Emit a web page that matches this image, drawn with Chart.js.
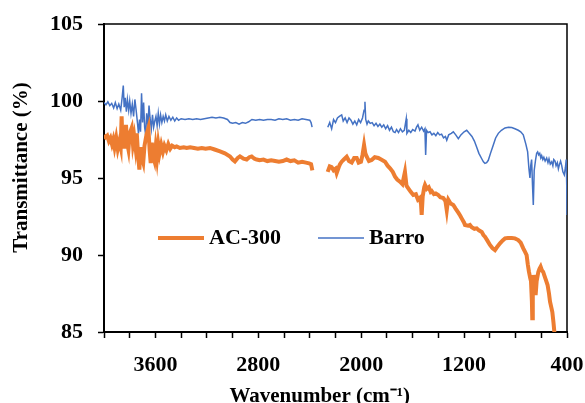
<!DOCTYPE html>
<html>
<head>
<meta charset="utf-8">
<script src="https://cdn.jsdelivr.net/npm/chart.js@4/dist/chart.umd.min.js"></script>
<style>
    html, body { margin: 0; padding: 0; background: #fff; }
    #wrap { width: 585px; height: 403px; position: relative; }
</style>
</head>
<body>
<div id="wrap"><canvas id="ftirChart"></canvas></div>
<script>
// Tick positions (cm-1) and which of them carry a label
const xTicks = [4000, 3800, 3600, 3400, 3200, 3000, 2800, 2600, 2400, 2200, 2000, 1800, 1600, 1400, 1200, 1000, 800, 600, 400];
const xTickLabels = [3600, 2800, 2000, 1200, 400];
const yTickLabels = [85, 90, 95, 100, 105];

// AC-300 spectrum (null = removed CO2 region)
const ac300Wn = [4000, 3988, 3975, 3962, 3950, 3938, 3928, 3918, 3905, 3893, 3880, 3870, 3863, 3856, 3848, 3840, 3829, 3820, 3810, 3800,
    3785, 3775, 3765, 3755, 3745, 3735, 3725, 3715, 3705, 3695, 3685, 3670, 3655, 3645, 3637, 3628, 3618, 3608, 3598, 3588,
    3578, 3568, 3555, 3542, 3530, 3515, 3500, 3485, 3470, 3450, 3435, 3410, 3380, 3357, 3330, 3300, 3270, 3240, 3210, 3176,
    3140, 3098, 3060, 3020, 3000, 2982, 2960, 2943, 2915, 2891, 2870, 2852, 2830, 2813, 2790, 2760, 2730, 2700, 2670, 2640,
    2610, 2580, 2550, 2520, 2490, 2460, 2430, 2405, 2390, 2380, 2320, 2261, 2245, 2230, 2215, 2200, 2191, 2175, 2165, 2152,
    2135, 2113, 2095, 2074, 2055, 2035, 2020, 2002, 1990, 1978, 1968, 1957, 1940, 1919, 1895, 1867, 1845, 1815, 1795, 1776,
    1755, 1737, 1720, 1699, 1680, 1660, 1648, 1634, 1615, 1595, 1575, 1559, 1545, 1535, 1530, 1522, 1510, 1504, 1490, 1475,
    1460, 1452, 1435, 1420, 1401, 1385, 1362, 1345, 1335, 1328, 1323, 1305, 1284, 1265, 1245, 1230, 1219, 1200, 1193, 1170,
    1155, 1141, 1120, 1102, 1085, 1063, 1050, 1038, 1020, 999, 980, 960, 945, 921, 900, 882, 860, 830, 805, 779,
    760, 740, 726, 714, 705, 696, 686, 680, 673, 670, 666, 659, 652, 644, 636, 623, 614, 605, 595, 585,
    577, 565, 551, 540, 532, 522, 514, 505, 501, 490];
const ac300T = [97.8, 97.65, 97.75, 97.4, 97.6, 97.2, 97.5, 97.0, 97.6, 96.9, 97.4, 97.0, 99.0, 97.2, 98.0, 96.9, 98.45, 97.3, 96.85, 97.9,
    98.25, 97.2, 97.7, 97.0, 97.9, 96.5, 95.55, 97.0, 96.3, 96.0, 97.1, 97.8, 98.25, 96.8, 95.97, 97.3, 96.4, 96.1, 97.0, 96.3,
    97.2, 96.6, 97.15, 96.7, 97.1, 96.8, 97.2, 96.9, 97.1, 97.0, 97.05, 96.95, 97.0, 96.95, 97.0, 96.95, 96.9, 96.95, 96.9, 96.95,
    96.85, 96.73, 96.6, 96.4, 96.2, 96.08, 96.3, 96.4, 96.25, 96.2, 96.35, 96.4, 96.25, 96.2, 96.15, 96.2, 96.1, 96.15, 96.1, 96.05,
    96.1, 96.2, 96.1, 96.15, 96.0, 96.05, 96.0, 95.95, 95.9, 95.5, null, 95.4, 95.75, 95.7, 95.5, 95.6, 95.32, 95.7, 95.9, 96.06,
    96.2, 96.38, 96.1, 96.0, 96.3, 96.3, 96.0, 96.06, 96.5, 97.14, 96.6, 96.38, 96.1, 96.17, 96.35, 96.3, 96.2, 96.06, 95.8, 95.63,
    95.4, 95.09, 94.9, 94.76, 94.6, 95.4, 94.5, 94.33, 94.1, 93.9, 93.95, 93.6, 93.7, 93.3, 92.6, 93.8, 94.4, 94.55, 94.3, 94.4,
    94.1, 94.15, 93.95, 94.0, 93.9, 93.75, 93.7, 93.5, 92.92, 93.4, 93.6, 93.35, 93.25, 93.0, 92.75, 92.55, 92.38, 92.1, 91.95, 91.9,
    91.95, 91.8, 91.7, 91.73, 91.6, 91.5, 91.3, 91.19, 90.95, 90.65, 90.45, 90.32, 90.5, 90.76, 90.95, 91.08, 91.1, 91.1, 91.08, 90.97,
    90.8, 90.43, 90.2, 90.0, 89.4, 88.92, 88.5, 88.3, 87.0, 85.89, 87.5, 88.7, 88.0, 87.4, 88.3, 88.9, 89.1, 89.24, 89.0, 88.9,
    88.7, 88.4, 88.05, 87.5, 86.97, 86.6, 86.3, 85.6, 85.24, 84.3];

// Barro spectrum
const barroWn = [4000, 3985, 3970, 3955, 3940, 3925, 3912, 3898, 3885, 3870, 3858, 3850, 3843, 3835, 3826, 3818, 3808, 3800, 3790, 3780,
    3770, 3760, 3750, 3740, 3732, 3724, 3716, 3708, 3700, 3692, 3684, 3676, 3668, 3658, 3650, 3642, 3632, 3623, 3614, 3605,
    3596, 3587, 3578, 3569, 3560, 3550, 3540, 3530, 3520, 3508, 3495, 3480, 3465, 3450, 3435, 3420, 3400, 3370, 3340, 3310,
    3280, 3250, 3220, 3190, 3160, 3130, 3100, 3070, 3040, 3020, 3000, 2975, 2950, 2925, 2900, 2875, 2850, 2820, 2790, 2760,
    2730, 2700, 2670, 2640, 2610, 2580, 2550, 2520, 2490, 2460, 2430, 2400, 2390, 2382, 2320, 2260, 2245, 2230, 2215, 2200,
    2185, 2170, 2152, 2140, 2125, 2110, 2095, 2080, 2065, 2050, 2035, 2020, 2005, 1990, 1978, 1971, 1965, 1955, 1945, 1930,
    1915, 1900, 1885, 1870, 1855, 1840, 1825, 1810, 1795, 1780, 1765, 1750, 1737, 1725, 1710, 1695, 1680, 1665, 1650, 1645,
    1630, 1615, 1600, 1582, 1570, 1559, 1545, 1530, 1515, 1505, 1499, 1492, 1480, 1465, 1450, 1435, 1420, 1405, 1390, 1375,
    1360, 1345, 1335, 1320, 1300, 1284, 1265, 1245, 1225, 1200, 1180, 1160, 1139, 1120, 1102, 1085, 1063, 1050, 1038, 1025,
    1012, 995, 973, 955, 934, 910, 882, 855, 830, 805, 779, 760, 740, 720, 706, 696, 688, 682, 675, 668,
    662, 655, 644, 636, 628, 620, 612, 604, 597, 588, 580, 570, 558, 548, 540, 530, 519, 510, 503, 493,
    485, 475, 467, 458, 450, 441, 432, 421, 412, 406, 402, 400];
const barroT = [99.9, 99.75, 99.95, 99.7, 99.85, 99.55, 99.9, 99.5, 99.8, 99.4, 100.3, 101.0, 99.6, 100.2, 99.3, 100.1, 99.4, 100.0, 99.2, 99.8,
    99.0, 100.1, 99.4, 98.6, 97.9, 98.8, 98.0, 100.5, 98.6, 99.9, 98.3, 97.8, 99.2, 98.4, 99.7, 98.9, 98.2, 99.1, 98.3, 98.7,
    99.0, 98.4, 99.2, 98.5, 99.1, 98.6, 99.0, 98.7, 99.1, 98.7, 99.0, 98.75, 98.95, 98.7, 98.9, 98.75, 98.85, 98.8, 98.85, 98.8,
    98.85, 98.8, 98.85, 98.9, 98.95, 98.9, 98.95, 98.9, 98.8, 98.6, 98.55, 98.6, 98.5, 98.6, 98.55, 98.65, 98.8, 98.75, 98.8, 98.75,
    98.8, 98.8, 98.75, 98.85, 98.8, 98.85, 98.75, 98.8, 98.75, 98.85, 98.8, 98.75, 98.6, 98.3, null, 98.3, 98.6, 98.2, 98.8, 98.6,
    98.9, 99.0, 99.1, 98.7, 98.9, 98.6, 98.9, 98.75, 98.5, 98.7, 98.45, 98.8, 98.6, 98.9, 99.4, 99.95, 98.8, 98.5, 98.7, 98.55,
    98.6, 98.4, 98.55, 98.35, 98.5, 98.3, 98.45, 98.2, 98.4, 98.1, 98.3, 98.0, 97.95, 98.15, 97.95, 98.2, 98.0, 98.1, 98.85, 97.9,
    98.1, 97.95, 98.15, 98.05, 98.3, 98.45, 98.1, 98.3, 98.05, 98.2, 96.5, 98.1, 97.95, 98.0, 97.8, 97.9, 97.75, 97.95, 97.8, 97.85,
    97.6, 97.7, 97.45, 97.8, 97.9, 98.0, 97.8, 97.55, 97.8, 98.0, 98.1, 97.9, 97.7, 97.4, 97.0, 96.6, 96.25, 96.05, 95.95, 96.0,
    96.15, 96.6, 97.15, 97.6, 97.9, 98.1, 98.25, 98.3, 98.28, 98.2, 98.1, 98.0, 97.8, 97.2, 96.7, 95.6, 95.0, 95.8, 96.2, 94.5,
    93.25, 95.5, 96.2, 96.6, 96.7, 96.5, 96.6, 96.3, 96.45, 96.2, 96.35, 96.1, 96.3, 96.0, 96.25, 95.9, 96.05, 95.8, 96.2, 96.1,
    95.8, 96.0, 95.6, 95.9, 96.1, 95.8, 95.4, 95.2, 95.7, 96.2, 94.5, 92.6];

const toPoints = (xs, ys) => xs.map((x, i) => ({ x: x, y: ys[i] }));

const serif = "'Liberation Serif', 'Times New Roman', serif";
const tickFont = { family: serif, size: 22, weight: 'bold' };
const titleFont = { family: serif, size: 21, weight: 'bold', lineHeight: 1.2 };

// thin frame on the top and right of the plot area
const framePlugin = {
    id: 'frame',
    beforeDatasetsDraw(chart) {
        const { ctx, chartArea: a } = chart;
        ctx.save();
        ctx.strokeStyle = '#000';
        ctx.lineWidth = 1.5;
        ctx.beginPath();
        ctx.moveTo(a.left, a.top);
        ctx.lineTo(a.right, a.top);
        ctx.lineTo(a.right, a.bottom);
        ctx.stroke();
        ctx.restore();
    }
};

// legend sitting inside the plot
const innerLegend = {
    id: 'innerLegend',
    afterDraw(chart) {
        const { ctx, chartArea: a } = chart;
        const y = a.top + 214;
        const starts = [a.left + 54, a.left + 214];
        ctx.save();
        ctx.font = 'bold 22px ' + serif;
        ctx.textBaseline = 'middle';
        ctx.fillStyle = '#000';
        chart.data.datasets.forEach((ds, i) => {
            const x0 = starts[i];
            ctx.strokeStyle = ds.borderColor;
            ctx.lineWidth = ds.borderWidth;
            ctx.beginPath();
            ctx.moveTo(x0, y);
            ctx.lineTo(x0 + 46, y);
            ctx.stroke();
            ctx.fillText(ds.label, x0 + 51, y);
        });
        ctx.restore();
    }
};

document.addEventListener('DOMContentLoaded', () => {
    const ctx = document.getElementById('ftirChart').getContext('2d');

    new Chart(ctx, {
        type: 'line',
        data: {
            datasets: [{
                label: 'AC-300',
                data: toPoints(ac300Wn, ac300T),
                borderColor: '#ED7D31',
                borderWidth: 4,
                pointRadius: 0,
                tension: 0,
                spanGaps: false,
            }, {
                label: 'Barro',
                data: toPoints(barroWn, barroT),
                borderColor: '#4472C4',
                borderWidth: 1.5,
                pointRadius: 0,
                tension: 0,
                spanGaps: false,
            }]
        },
        options: {
            responsive: true,
            maintainAspectRatio: false,
            animation: false,
            layout: { padding: { top: 24, right: 18, bottom: 0, left: 0 } },
            plugins: {
                legend: { display: false },
                tooltip: { enabled: false }
            },
            scales: {
                x: {
                    type: 'linear',
                    reverse: true,
                    min: 400,
                    max: 4000,
                    afterBuildTicks: (scale) => { scale.ticks = xTicks.map(v => ({ value: v })); },
                    afterFit: (scale) => {
                        scale.height = 71;
                        scale.paddingLeft = 0;
                        scale.paddingRight = 0;
                    },
                    ticks: {
                        autoSkip: false,
                        maxRotation: 0,
                        padding: 14,
                        color: '#000',
                        font: tickFont,
                        callback: (v) => xTickLabels.includes(v) ? String(v) : ''
                    },
                    grid: { drawOnChartArea: false, tickLength: 6, tickWidth: 1.5, tickColor: '#000' },
                    border: { color: '#000', width: 2 },
                    title: {
                        display: true,
                        text: 'Wavenumber (cm\u207B\u00B9)\u2002\u2002\u2002',
                        color: '#000',
                        font: titleFont,
                        padding: { top: 0, bottom: -6 }
                    }
                },
                y: {
                    min: 85,
                    max: 105,
                    afterBuildTicks: (scale) => { scale.ticks = yTickLabels.map(v => ({ value: v })); },
                    afterFit: (scale) => {
                        scale.width = 104;
                        scale.paddingTop = 0;
                        scale.paddingBottom = 0;
                    },
                    ticks: { padding: 15, color: '#000', font: tickFont },
                    grid: { drawOnChartArea: false, tickLength: 6, tickWidth: 1.5, tickColor: '#000' },
                    border: { color: '#000', width: 2 },
                    title: {
                        display: true,
                        text: '\u2002\u2002Transmittance (%)',
                        color: '#000',
                        font: titleFont,
                        padding: { top: 9, bottom: 0 }
                    }
                }
            }
        },
        plugins: [framePlugin, innerLegend]
    });
});
</script>
</body>
</html>
